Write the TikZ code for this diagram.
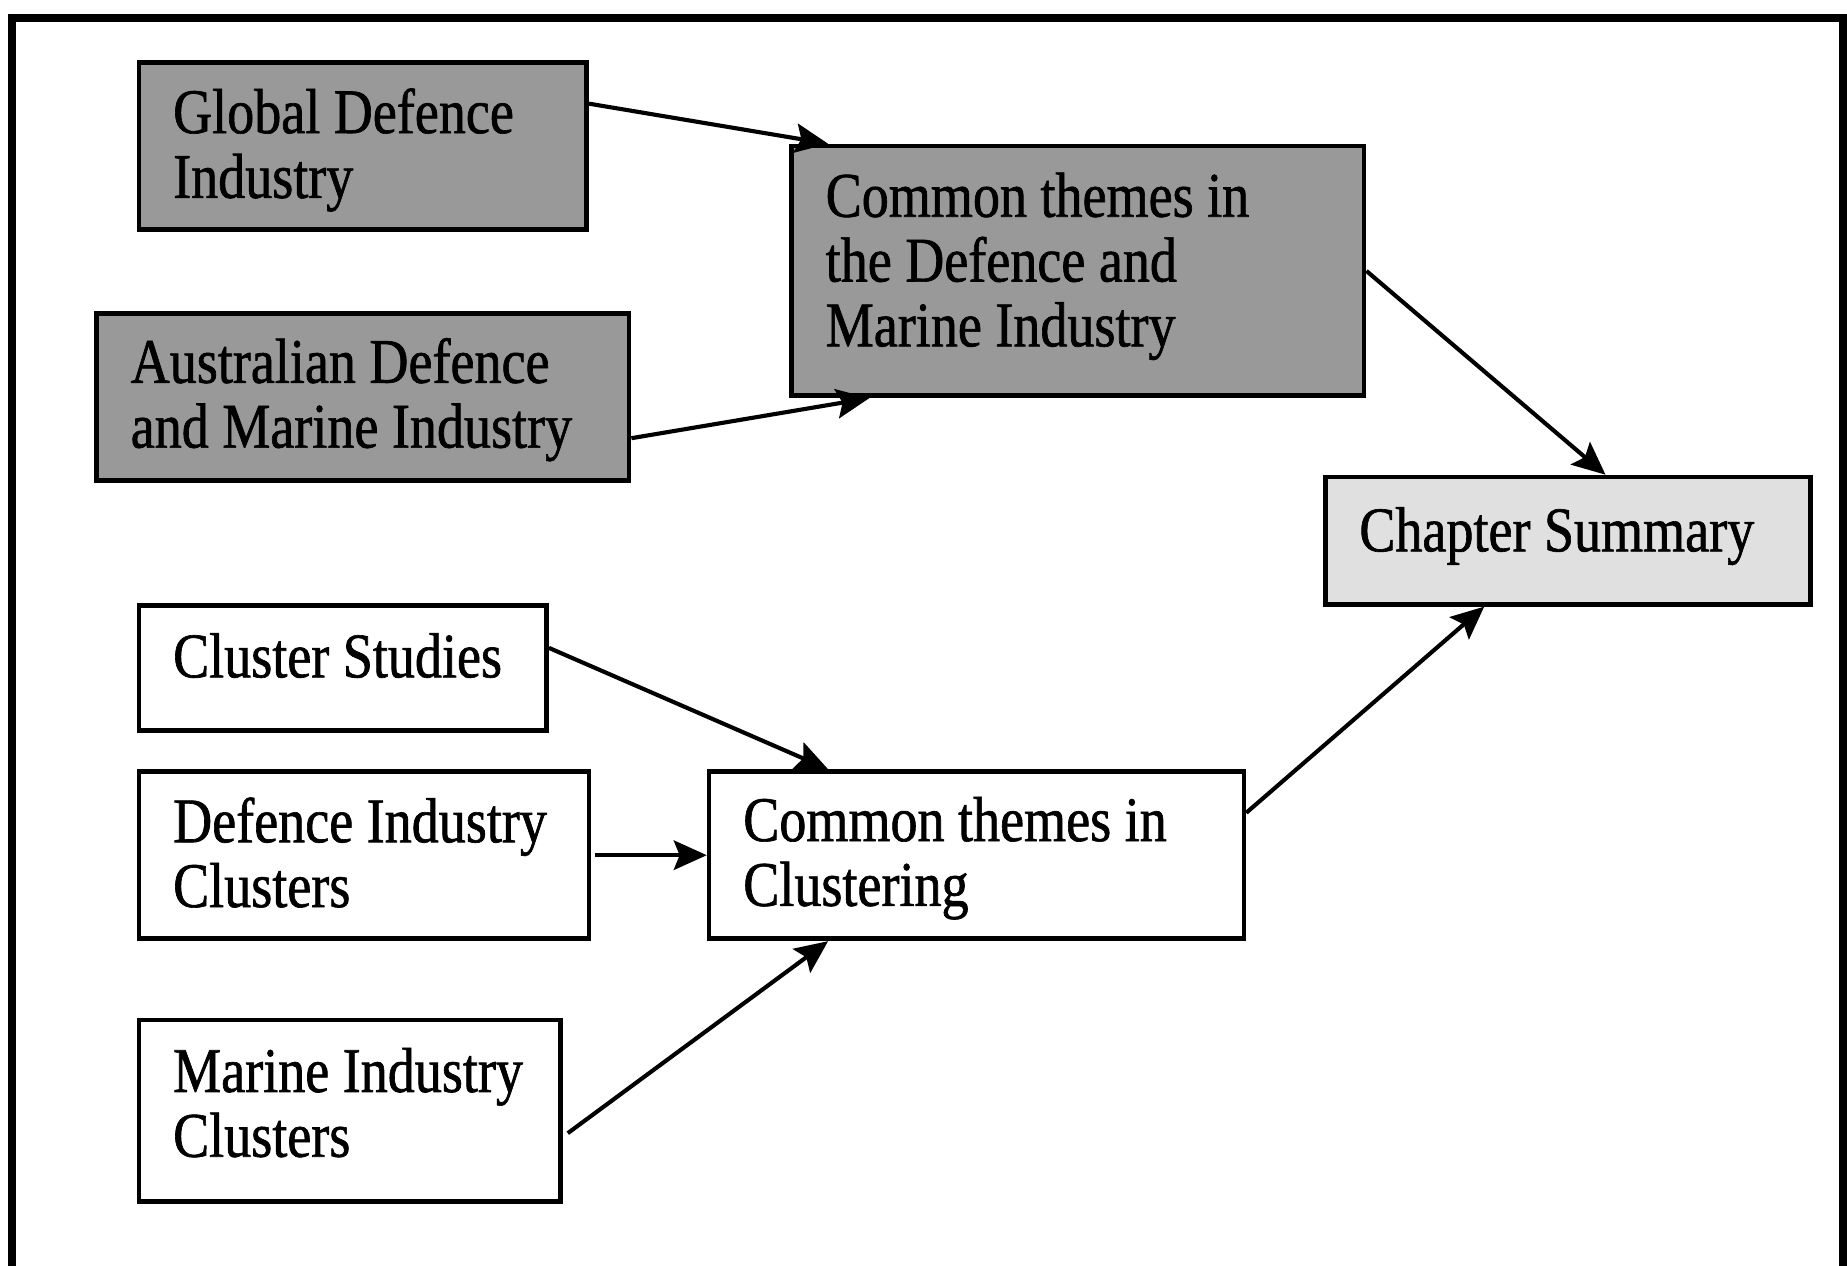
\documentclass[tikz,border=0pt]{standalone}
\usepackage{fontspec}
\setmainfont{Liberation Serif}[FakeStretch=0.85, FakeBold=1]
\usetikzlibrary{arrows.meta}
\begin{document}
\begin{tikzpicture}[x=1pt,y=-1pt,
  box/.style={draw=black, line width=4pt, rectangle, inner xsep=29pt, inner ysep=0pt,
    align=flush left, font=\fontsize{54pt}{55pt}\selectfont},
  dark/.style={box, fill=black!40},
  light/.style={box, fill=black!12},
  plain/.style={box, fill=white},
  link/.style={line width=3.5pt, -{Stealth[length=28pt,width=25pt,inset=5pt]}},
  frame/.style={line width=7pt}
]
\useasboundingbox (0,0) rectangle (1568,1074);

% outer frame, open at the bottom
\draw[frame] (10.5,1080) -- (10.5,15) -- (1565,15) -- (1565,1080);

% upper group: industry context
\node[dark, minimum width=380pt, minimum height=142pt, text width=322pt,
      text height=0pt, text depth=22pt] (glob) at (308,124)
  {\mbox{Global Defence}\\Industry};
\node[dark, minimum width=452pt, minimum height=142pt, text width=394pt,
      text height=0pt, text depth=24pt] (aus) at (308,337)
  {\mbox{Australian Defence}\\\mbox{and Marine Industry}};
\node[dark, minimum width=486pt, minimum height=212pt, text width=428pt,
      text height=0pt, text depth=92pt] (ctop) at (915,230)
  {\mbox{Common themes in}\\\mbox{the Defence and}\\\mbox{Marine Industry}};

% summary
\node[light, minimum width=412pt, minimum height=108pt, text width=354pt,
      text height=18pt, text depth=0pt] (summ) at (1331,459)
  {\mbox{Chapter Summary}};

% lower group: clustering
\node[plain, minimum width=346pt, minimum height=106pt, text width=288pt,
      text height=16pt, text depth=0pt] (cs) at (291,567)
  {\mbox{Cluster Studies}};
\node[plain, minimum width=382pt, minimum height=142pt, text width=324pt,
      text height=0pt, text depth=22pt] (dic) at (309,726)
  {\mbox{Defence Industry}\\Clusters};
\node[plain, minimum width=358pt, minimum height=154pt, text width=300pt,
      text height=0pt, text depth=32pt] (mic) at (297,943)
  {\mbox{Marine Industry}\\Clusters};
\node[plain, minimum width=454pt, minimum height=142pt, text width=396pt,
      text height=0pt, text depth=24pt] (clu) at (829,726)
  {\mbox{Common themes in}\\Clustering};

% connectors
\draw[link] ([yshift=36pt]glob.east) -- ([xshift=33pt]ctop.north west);
\draw[link] ([yshift=-35pt]aus.east) -- ([xshift=68pt]ctop.south west);
\draw[link] (ctop.east) -- ([xshift=240pt]summ.north west);
\draw[link] ([yshift=17pt]cs.east) -- ([xshift=103pt]clu.north west);
\draw[link] ([xshift=3pt]dic.east) -- (clu.west);
\draw[link] ([xshift=4pt,yshift=-19pt]mic.east) -- ([xshift=103pt]clu.south west);
\draw[link] ([yshift=36pt]clu.east) -- ([xshift=137pt]summ.south west);
\end{tikzpicture}
\end{document}
